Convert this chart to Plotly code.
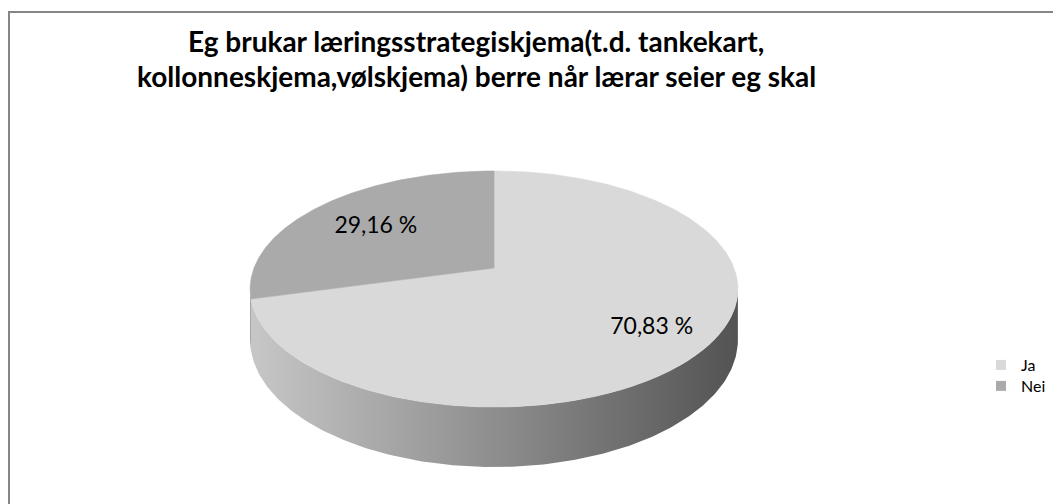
import numpy as np
import plotly.graph_objects as go

# ---- data ----
labels = ["Ja", "Nei"]
values = [70.83, 29.16]
value_text = ["70,83 %", "29,16 %"]
top_colors = ["#d9d9d9", "#aaaaaa"]
title_lines = ["Eg brukar læringsstrategiskjema(t.d. tankekart,",
               "kollonneskjema,vølskjema) berre når lærar seier eg skal"]

# ---- geometry of the 3D pie (screen px) ----
W, H = 1061, 504
OFF = 8  # page body offset compensation
CX, CY = 494, 268
A, B, K, DROP = 240, 114.3, 0.178, 49.3
LBL_R = 0.72
LBL_DX, LBL_DY = 9, 6


def proj(theta_deg, r=1.0, z=0.0):
    t = np.radians(theta_deg)
    X = r * np.sin(t)
    Y = r * np.cos(t)
    den = 1 + K * Y
    return CX + A * X / den, CY - (B * Y - z * DROP) / den


theta_r = np.degrees(np.arccos(-K))      # right silhouette
theta_l = 360 - theta_r                   # left silhouette

fig = go.Figure()

total = sum(values)
bounds = []
s = 0.0
for v in values:
    e = s + 360.0 * v / total
    bounds.append((s, e))
    s = e

side_scales = [
    [[0, "#c6c6c6"], [0.5, "#8e8e8e"], [1, "#545454"]],
    [[0, "#9a9a9a"], [1, "#8a8a8a"]],
]

# sides
for i, (s, e) in enumerate(bounds):
    lo, hi = max(s, theta_r), min(e, theta_l)
    if hi <= lo:
        continue
    ts = np.linspace(lo, hi, 200)
    xt, yt = proj(ts)
    xb, yb = proj(ts[::-1], z=1.0)
    xs = np.concatenate([xt, xb, xt[:1]])
    ys = np.concatenate([yt, yb, yt[:1]])
    fig.add_trace(go.Scatter(
        x=xs, y=ys, mode="lines", fill="toself",
        line=dict(width=0, color="rgba(0,0,0,0)"),
        fillgradient=dict(type="horizontal", colorscale=side_scales[i],
                          start=CX - A, stop=CX + A),
        hoverinfo="skip", showlegend=False))

# top faces
for i, (s, e) in enumerate(bounds):
    ts = np.linspace(s, e, 300)
    xa, ya = proj(ts)
    xs = np.concatenate([[CX], xa, [CX]])
    ys = np.concatenate([[CY], ya, [CY]])
    fig.add_trace(go.Scatter(
        x=xs, y=ys, mode="lines", fill="toself",
        fillcolor=top_colors[i],
        line=dict(width=0.6, color=top_colors[i]),
        hoverinfo="skip", showlegend=False))

# labels
for i, (s, e) in enumerate(bounds):
    lx, ly = proj((s + e) / 2, r=LBL_R)
    fig.add_trace(go.Scatter(
        x=[lx + LBL_DX], y=[ly + LBL_DY], mode="text", text=[value_text[i]],
        textfont=dict(family="Lato", size=23, color="#000000"),
        textposition="middle center", hoverinfo="skip", showlegend=False))

# legend entries (one legend per entry for exact row spacing)
legend_names = ["legend", "legend2"]
for i, lab in enumerate(labels):
    fig.add_trace(go.Scatter(
        x=[None], y=[None], mode="markers", name=lab,
        marker=dict(symbol="square", size=10, color=top_colors[i]),
        showlegend=True, legend=legend_names[i]))

fig.add_shape(type="rect", xref="x", yref="y", x0=9, y0=12, x1=1090, y1=540,
              line=dict(color="#868686", width=2), fillcolor="rgba(0,0,0,0)",
              layer="below")

for j, (txt, yy) in enumerate(zip(title_lines, [41, 76])):
    fig.add_annotation(x=476, y=yy, xref="x", yref="y", text="<b>" + txt + "</b>",
                       showarrow=False, xanchor="center", yanchor="middle",
                       font=dict(family="Lato", size=28, color="#000000"))

legend_style = dict(xanchor="left", yanchor="middle",
                    font=dict(family="Lato", size=16, color="#000000"),
                    itemwidth=30, bgcolor="rgba(0,0,0,0)")
leg_rows = [365, 386]

fig.update_layout(
    width=W, height=H, autosize=False,
    margin=dict(l=0, r=0, t=0, b=0),
    paper_bgcolor="#ffffff", plot_bgcolor="#ffffff",
    xaxis=dict(range=[OFF, W + OFF], visible=False, fixedrange=True),
    yaxis=dict(range=[H + OFF, OFF], visible=False, fixedrange=True),
    legend=dict(x=(981 - OFF) / W, y=1 - (leg_rows[0] - OFF) / H, **legend_style),
    legend2=dict(x=(981 - OFF) / W, y=1 - (leg_rows[1] - OFF) / H, **legend_style),
    showlegend=True,
)

fig.write_html("out.html")
